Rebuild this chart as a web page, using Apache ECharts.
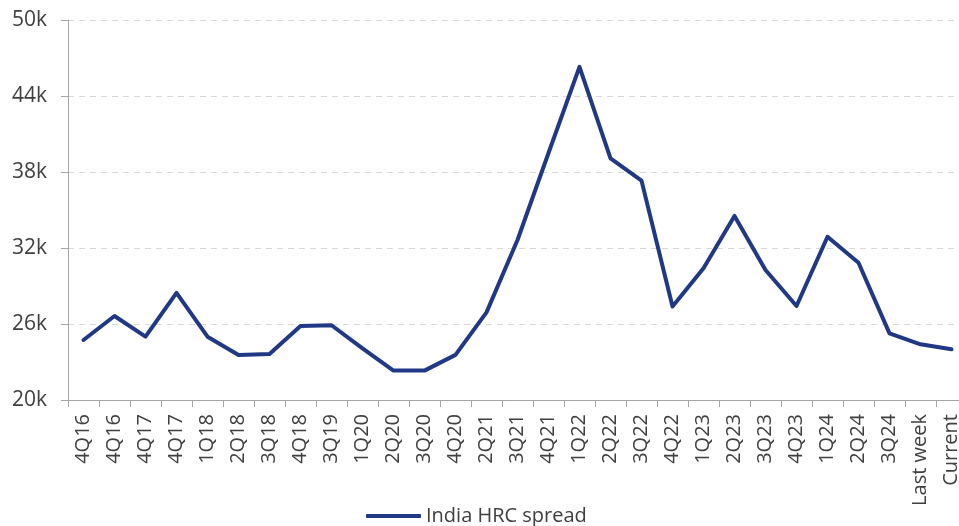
<!DOCTYPE html>
<html>
<head>
<meta charset="utf-8">
<style>
html,body{margin:0;padding:0;background:#fff;}
#chart{width:959px;height:526px;}
</style>
<script src="https://cdn.jsdelivr.net/npm/echarts@6/dist/echarts.min.js"></script>
</head>
<body>
<div id="chart"></div>
<script>
const categories = ['4Q16','4Q16','4Q17','4Q17','1Q18','2Q18','3Q18','4Q18','3Q19','1Q20','2Q20','3Q20','4Q20','2Q21','3Q21','4Q21','1Q22','2Q22','3Q22','4Q22','1Q23','2Q23','3Q23','4Q23','1Q24','2Q24','3Q24','Last week','Current'];
const spreadValues = [24740,26630,25000,28450,25000,23550,23630,25850,25900,24080,22320,22320,23560,26920,32630,39500,46300,39080,37320,27380,30400,34530,30260,27420,32890,30840,25260,24400,24000];
const seriesName = 'India HRC spread';
const yMin = 20000, yMax = 50000, yStep = 6000;

const chart = echarts.init(document.getElementById('chart'), null, {renderer:'canvas'});
const font = '"Open Sans", "Noto Sans", sans-serif';
chart.setOption({
  animation:false,
  backgroundColor:'#ffffff',
  textStyle:{fontFamily:font},
  grid:{left:68, top:20, bottom:126, right:-8, containLabel:false, outerBoundsMode:'none'},
  legend:{
    show:true, top:506, left:366, padding:0,
    icon:'roundRect', itemWidth:55, itemHeight:4, itemGap:10,
    textStyle:{fontFamily:font, fontSize:20, color:'#404040'},
    data:[{name:seriesName, itemStyle:{color:'#213886'}}]
  },
  xAxis:{
    type:'category', data:categories, boundaryGap:true,
    axisLine:{show:true, lineStyle:{color:'#a6a6a6', width:1}},
    axisTick:{show:true, length:7, lineStyle:{color:'#a6a6a6'}},
    axisLabel:{interval:0, rotate:90, margin:14, fontFamily:font, fontSize:20, color:'#404040'},
    splitLine:{show:false}
  },
  yAxis:{
    type:'value', min:yMin, max:yMax, interval:yStep,
    axisLine:{show:true, lineStyle:{color:'#a6a6a6', width:1}},
    axisTick:{show:true, length:7, lineStyle:{color:'#a6a6a6'}},
    axisLabel:{margin:21, fontFamily:font, fontSize:21, color:'#404040', formatter:v=>(v/1000)+'k'},
    splitLine:{show:true, lineStyle:{color:'#d9d9d9', type:[6,5], width:1}}
  },
  series:[{
    name:seriesName, type:'line', data:spreadValues,
    symbol:'none', smooth:false,
    lineStyle:{color:'#213886', width:4, join:'round', cap:'round'},
    itemStyle:{color:'#213886'}
  }]
});
</script>
</body>
</html>
